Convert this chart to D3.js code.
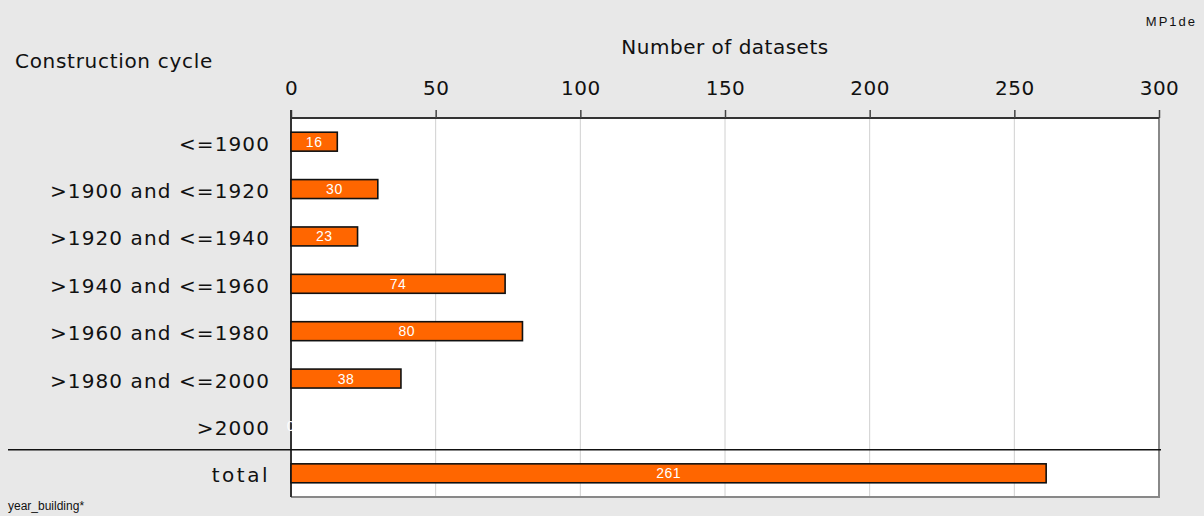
<!DOCTYPE html>
<html>
<head>
<meta charset="utf-8">
<script src="https://cdn.jsdelivr.net/npm/d3@7"></script>
<style>
  body { margin: 0; background: #e8e8e8; }
  svg { display: block; }
</style>
</head>
<body>
<div id="chart"></div>
<script>
// Data
const categories = ["<=1900", ">1900 and <=1920", ">1920 and <=1940", ">1940 and <=1960",
                    ">1960 and <=1980", ">1980 and <=2000", ">2000", "total"];
const counts = [16, 30, 23, 74, 80, 38, 0, 261];
const xTicks = [0, 50, 100, 150, 200, 250, 300];

const width = 1204, height = 516;
const margin = { top: 118, right: 45, bottom: 19, left: 291 };

const svg = d3.select("#chart")
    .append("svg")
    .attr("width", width)
    .attr("height", height);

svg.append("rect")
    .attr("width", width)
    .attr("height", height)
    .attr("fill", "#e8e8e8");

const x = d3.scaleLinear()
    .domain([0, 300])
    .range([margin.left, width - margin.right]);

const y = d3.scaleBand()
    .domain(categories)
    .range([margin.top, height - margin.bottom])
    .paddingInner(0.6)
    .paddingOuter(0.3);

// Plot area
svg.append("rect")
    .attr("x", x(0))
    .attr("y", margin.top)
    .attr("width", x(300) - x(0))
    .attr("height", height - margin.bottom - margin.top)
    .attr("fill", "#fff");

// Gridlines
svg.selectAll(".grid")
    .data(xTicks.slice(1, -1))
    .enter()
    .append("line")
    .attr("x1", d => x(d))
    .attr("x2", d => x(d))
    .attr("y1", margin.top)
    .attr("y2", height - margin.bottom)
    .attr("stroke", "#d0d0d0")
    .attr("stroke-width", 1);

// Right and bottom borders
svg.append("path")
    .attr("d", `M${x(300)},${margin.top}V${height - margin.bottom}H${x(0)}`)
    .attr("fill", "none")
    .attr("stroke", "#888")
    .attr("stroke-width", 2);

// Top axis
const xAxis = svg.append("g")
    .attr("transform", `translate(0,${margin.top})`)
    .call(d3.axisTop(x).tickValues(xTicks).tickSize(8).tickPadding(15));

xAxis.select(".domain")
    .attr("stroke", "#333")
    .attr("stroke-width", 2)
    .attr("d", `M${x(0)},0H${x(300)}`);
xAxis.selectAll(".tick line")
    .attr("stroke", "#444")
    .attr("stroke-width", 1.5);
xAxis.selectAll("text")
    .attr("fill", "#111")
    .style("font-family", "DejaVu Sans")
    .style("font-size", "20px")
    .style("letter-spacing", "0.5px");

// Left axis line
svg.append("line")
    .attr("x1", x(0))
    .attr("x2", x(0))
    .attr("y1", margin.top - 8)
    .attr("y2", height - margin.bottom)
    .attr("stroke", "#333")
    .attr("stroke-width", 2);

// Separator above total
const sepY = y("total") - y.step() * y.paddingInner() / 2;
svg.append("line")
    .attr("x1", 8)
    .attr("x2", x(300) + 2)
    .attr("y1", sepY)
    .attr("y2", sepY)
    .attr("stroke", "#111")
    .attr("stroke-width", 1.5);

// Bars
const rows = categories.map((c, i) => ({ cat: c, value: counts[i] }));

svg.selectAll(".bar")
    .data(rows.filter(d => d.value > 0))
    .enter()
    .append("rect")
    .attr("class", "bar")
    .attr("x", x(0))
    .attr("y", d => y(d.cat))
    .attr("width", d => x(d.value) - x(0))
    .attr("height", y.bandwidth())
    .attr("fill", "#ff6600")
    .attr("stroke", "#111")
    .attr("stroke-width", 1.6);

// Value labels
svg.selectAll(".val")
    .data(rows)
    .enter()
    .append("text")
    .attr("x", d => (x(0) + x(d.value)) / 2)
    .attr("y", d => y(d.cat) + y.bandwidth() / 2 + 5)
    .attr("text-anchor", "middle")
    .attr("fill", "#fff")
    .style("font-family", "Liberation Sans, Arial, sans-serif")
    .style("font-size", "14px")
    .style("letter-spacing", "0.5px")
    .text(d => d.value);

// Category labels
svg.selectAll(".cat")
    .data(categories)
    .enter()
    .append("text")
    .attr("x", 270)
    .attr("y", d => y(d) + y.bandwidth() / 2 + 9)
    .attr("text-anchor", "end")
    .attr("fill", "#111")
    .style("font-family", "DejaVu Sans")
    .style("font-size", "20px")
    .style("letter-spacing", d => d === "total" ? "2.5px" : "1.1px")
    .text(d => d);

// Titles
svg.append("text")
    .attr("x", 15)
    .attr("y", 68)
    .attr("fill", "#111")
    .style("font-family", "DejaVu Sans")
    .style("font-size", "20px")
    .style("letter-spacing", "0.7px")
    .text("Construction cycle");

svg.append("text")
    .attr("x", (x(0) + x(300)) / 2)
    .attr("y", 54)
    .attr("text-anchor", "middle")
    .attr("fill", "#111")
    .style("font-family", "DejaVu Sans")
    .style("font-size", "20px")
    .style("letter-spacing", "0.5px")
    .text("Number of datasets");

svg.append("text")
    .attr("x", 1197)
    .attr("y", 26)
    .attr("text-anchor", "end")
    .attr("fill", "#111")
    .style("font-family", "Liberation Sans, Arial, sans-serif")
    .style("font-size", "13px")
    .style("letter-spacing", "2px")
    .text("MP1de");

svg.append("text")
    .attr("x", 8)
    .attr("y", 510)
    .attr("fill", "#111")
    .style("font-family", "Liberation Sans, Arial, sans-serif")
    .style("font-size", "12px")
    .text("year_building*");
</script>
</body>
</html>
